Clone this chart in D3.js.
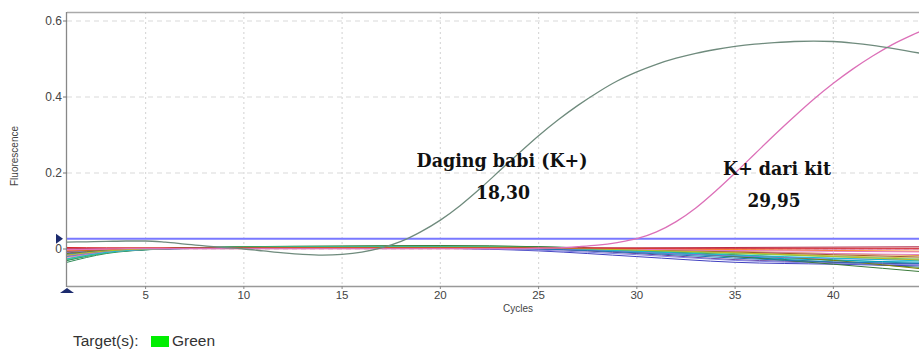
<!DOCTYPE html>
<html>
<head>
<meta charset="utf-8">
<script src="https://cdn.jsdelivr.net/npm/d3@7/dist/d3.min.js"></script>
<style>
  html, body { margin: 0; padding: 0; background: #fff; }
  svg { display: block; }
</style>
</head>
<body>
<svg id="chart" width="919" height="350"></svg>
<script>
// ---------------- DATA ----------------
const cycles = [1,2,3,4,5,6,7,8,9,10,11,12,13,14,15,16,17,18,19,20,21,22,23,24,25,26,27,28,29,30,31,32,33,34,35,36,37,38,39,40,41,42,43,44,45];

const xTicks = [5,10,15,20,25,30,35,40];
const yTicks = [0, 0.2, 0.4, 0.6];
const yTickLabels = ["0", "0.2", "0.4", "0.6"];

const thresholdValue = 0.027;

// Daging babi (K+) sample
const dagingBabi = [0.018,0.019,0.020,0.021,0.021,0.018,0.013,0.008,0.004,0.000,
  -0.005,-0.010,-0.014,-0.016,-0.014,-0.008,0.003,0.020,0.045,0.076,
  0.114,0.158,0.205,0.252,0.298,0.340,0.378,0.412,0.442,0.466,
  0.486,0.502,0.515,0.525,0.533,0.539,0.543,0.546,0.547,0.546,
  0.542,0.536,0.528,0.519,0.510];

// K+ dari kit sample
const kitPositive = [-0.002,-0.001,0.000,0.001,0.001,0.001,0.001,0.001,0.001,0.001,
  0.001,0.001,0.001,0.001,0.001,0.001,0.001,0.001,0.001,0.001,
  0.001,0.001,0.001,0.001,0.002,0.003,0.006,0.010,0.017,0.027,
  0.045,0.072,0.108,0.152,0.200,0.250,0.300,0.348,0.394,0.436,
  0.474,0.508,0.538,0.563,0.585];

// background (negative / baseline) samples, read at these cycles
const bgCycles = [1,3,5,8,10,15,20,25,30,35,40,45];
const bgColors = ["#2e8b57","#20b2aa","#d4c24a","#e0a040","#b03050","#cc3366","#6a3d9a","#4040c0",
  "#8080e0","#e080c0","#00a0c0","#808000","#3a7a3a","#a05a2c","#50c878","#9370db",
  "#1f77b4","#ff7f0e","#e377c2","#17becf","#bcbd22","#d62728"];
const bgValues = [
  [-0.035,-0.012,-0.002,0.004,0.006,0.007,0.008,0.006,-0.005,-0.020,-0.035,-0.050],
  [-0.030,-0.010,-0.001,0.004,0.005,0.006,0.007,0.004,-0.006,-0.018,-0.028,-0.040],
  [-0.025,-0.008,0.000,0.003,0.004,0.005,0.006,0.004,-0.002,-0.010,-0.018,-0.025],
  [-0.020,-0.006,0.001,0.002,0.003,0.004,0.005,0.004,0.000,-0.006,-0.012,-0.018],
  [0.002,0.002,0.002,0.002,0.002,0.002,0.003,0.003,0.003,0.004,0.005,0.006],
  [0.000,0.001,0.001,0.001,0.001,0.001,0.001,0.001,0.000,0.000,0.000,0.000],
  [-0.010,-0.004,0.000,0.002,0.003,0.004,0.004,0.000,-0.012,-0.028,-0.035,-0.040],
  [-0.005,-0.002,0.000,0.002,0.003,0.004,0.002,-0.005,-0.020,-0.035,-0.040,-0.045],
  [-0.008,-0.003,0.000,0.002,0.003,0.003,0.002,-0.003,-0.015,-0.030,-0.038,-0.042],
  [-0.015,-0.005,0.000,0.002,0.002,0.003,0.003,0.002,-0.003,-0.008,-0.012,-0.015],
  [-0.020,-0.008,-0.002,0.002,0.003,0.004,0.004,0.002,-0.008,-0.020,-0.030,-0.035],
  [-0.012,-0.004,0.000,0.003,0.004,0.005,0.005,0.003,-0.005,-0.015,-0.030,-0.055],
  [-0.030,-0.010,-0.002,0.004,0.006,0.008,0.009,0.006,-0.004,-0.020,-0.040,-0.062],
  [-0.006,-0.002,0.001,0.002,0.003,0.003,0.003,0.002,-0.002,-0.008,-0.015,-0.022],
  [-0.028,-0.010,-0.001,0.003,0.005,0.006,0.006,0.004,-0.004,-0.012,-0.020,-0.028],
  [-0.018,-0.006,0.000,0.002,0.003,0.004,0.004,0.001,-0.008,-0.018,-0.025,-0.030],
  [-0.014,-0.005,-0.001,0.002,0.003,0.003,0.003,0.000,-0.010,-0.024,-0.034,-0.038],
  [-0.004,-0.001,0.001,0.002,0.002,0.002,0.002,0.002,0.000,-0.002,-0.004,-0.006],
  [-0.022,-0.008,-0.001,0.002,0.003,0.003,0.003,0.002,-0.001,-0.004,-0.006,-0.008],
  [-0.026,-0.009,-0.001,0.003,0.004,0.005,0.005,0.003,-0.006,-0.016,-0.024,-0.032],
  [-0.016,-0.005,0.000,0.002,0.003,0.004,0.004,0.003,-0.003,-0.010,-0.020,-0.030],
  [0.004,0.003,0.003,0.003,0.003,0.003,0.003,0.003,0.002,0.002,0.002,0.002]
];

const annotations = [
  { text: "Daging babi (K+)", cx: 502, cy: 167, len: 171 },
  { text: "18,30",            cx: 503, cy: 199, len: 54 },
  { text: "K+ dari kit",      cx: 777, cy: 175, len: 108 },
  { text: "29,95",            cx: 774, cy: 207, len: 53 }
];

// ---------------- LAYOUT ----------------
const svg = d3.select("#chart");
const pLeft = 67, pTop = 12, pBottom = 286, pRight = 919;

const x = d3.scaleLinear().domain([1, 45]).range([pLeft, pLeft + 44 * 19.65]);
const y = d3.scaleLinear().domain([0, 0.6]).range([249, 21]);

svg.append("defs").append("clipPath").attr("id", "plotclip")
  .append("rect").attr("x", pLeft).attr("y", pTop).attr("width", pRight - pLeft).attr("height", pBottom - pTop);

// grid
const grid = svg.append("g");
grid.selectAll("line.v").data(xTicks).join("line")
  .attr("x1", d => x(d)).attr("x2", d => x(d))
  .attr("y1", pTop).attr("y2", pBottom)
  .attr("stroke", "#d9d9d9").attr("stroke-width", 1.2).attr("stroke-dasharray", "2,3");
grid.selectAll("line.h").data(yTicks).join("line")
  .attr("x1", pLeft).attr("x2", pRight)
  .attr("y1", d => y(d)).attr("y2", d => y(d))
  .attr("stroke", "#d9d9d9").attr("stroke-width", 1).attr("stroke-dasharray", "5,4");

// frame
svg.append("line").attr("x1", pLeft).attr("x2", pRight).attr("y1", pTop + 0.5).attr("y2", pTop + 0.5)
  .attr("stroke", "#aaaaaa").attr("stroke-width", 1.3);
svg.append("line").attr("x1", pLeft).attr("x2", pRight).attr("y1", pBottom + 0.5).attr("y2", pBottom + 0.5)
  .attr("stroke", "#999999").attr("stroke-width", 1.3);
svg.append("line").attr("x1", pLeft - 0.5).attr("x2", pLeft - 0.5).attr("y1", pTop).attr("y2", pBottom + 1)
  .attr("stroke", "#888888").attr("stroke-width", 1.3);

// y ticks
const yAx = svg.append("g");
yAx.selectAll("line").data(yTicks).join("line")
  .attr("x1", pLeft - 4).attr("x2", pLeft).attr("y1", d => y(d)).attr("y2", d => y(d))
  .attr("stroke", "#777");
yAx.selectAll("text").data(yTicks).join("text")
  .attr("x", pLeft - 5).attr("y", d => y(d)).attr("dy", "0.36em")
  .attr("text-anchor", "end")
  .attr("font-family", "Liberation Sans, Arial, sans-serif").attr("font-size", 12)
  .attr("fill", "#444")
  .text((d, i) => yTickLabels[i]);

// x ticks
const xAx = svg.append("g");
xAx.selectAll("line").data(xTicks).join("line")
  .attr("x1", d => x(d)).attr("x2", d => x(d)).attr("y1", pBottom).attr("y2", pBottom + 3)
  .attr("stroke", "#888");
xAx.selectAll("text").data(xTicks).join("text")
  .attr("x", d => x(d)).attr("y", 299)
  .attr("text-anchor", "middle")
  .attr("font-family", "Liberation Sans, Arial, sans-serif").attr("font-size", 11.5)
  .attr("fill", "#444")
  .text(d => d);

// axis titles
svg.append("text").attr("x", 518).attr("y", 312).attr("text-anchor", "middle")
  .attr("font-family", "Liberation Sans, Arial, sans-serif").attr("font-size", 10)
  .attr("fill", "#444").text("Cycles");
svg.append("text").attr("transform", "translate(18,156) rotate(-90)").attr("text-anchor", "middle")
  .attr("font-family", "Liberation Sans, Arial, sans-serif").attr("font-size", 10)
  .attr("fill", "#444").text("Fluorescence");

// curves
const plot = svg.append("g").attr("clip-path", "url(#plotclip)");
const bgLine = d3.line().x((d, i) => x(bgCycles[i])).y(d => y(d)).curve(d3.curveMonotoneX);
plot.selectAll("path.bg").data(bgValues).join("path")
  .attr("d", d => bgLine(d))
  .attr("fill", "none")
  .attr("stroke", (d, i) => bgColors[i])
  .attr("stroke-width", 1);

const mainLine = d3.line().x((d, i) => x(cycles[i])).y(d => y(d)).curve(d3.curveMonotoneX);

// threshold
plot.append("line").attr("x1", pLeft).attr("x2", pRight)
  .attr("y1", y(thresholdValue)).attr("y2", y(thresholdValue))
  .attr("stroke", "#7878ff").attr("stroke-width", 2);

plot.append("path").attr("d", mainLine(kitPositive))
  .attr("fill", "none").attr("stroke", "#dc70b8").attr("stroke-width", 1.3);
plot.append("path").attr("d", mainLine(dagingBabi))
  .attr("fill", "none").attr("stroke", "#6f8b7d").attr("stroke-width", 1.3);

// markers
const ty = y(thresholdValue);
svg.append("path").attr("d", `M56,${ty - 5} L63,${ty} L56,${ty + 5} Z`).attr("fill", "#1c2b6e");
svg.append("path").attr("d", `M${pLeft - 7},${pBottom + 7} L${pLeft},${pBottom + 2} L${pLeft + 7},${pBottom + 7} Z`).attr("fill", "#1c2b6e");

// annotations
svg.selectAll("text.ann").data(annotations).join("text")
  .attr("x", d => d.cx).attr("y", d => d.cy)
  .attr("text-anchor", "middle")
  .attr("font-family", "DejaVu Serif, serif").attr("font-weight", "bold")
  .attr("font-size", 19)
  .attr("textLength", d => d.len).attr("lengthAdjust", "spacingAndGlyphs")
  .attr("fill", "#111")
  .text(d => d.text);

// legend
svg.append("text").attr("x", 73).attr("y", 346)
  .attr("font-family", "Liberation Sans, Arial, sans-serif").attr("font-size", 15.5)
  .attr("fill", "#333").text("Target(s):");
svg.append("rect").attr("x", 151).attr("y", 336).attr("width", 18).attr("height", 11).attr("fill", "#00ee00");
svg.append("text").attr("x", 172).attr("y", 346)
  .attr("font-family", "Liberation Sans, Arial, sans-serif").attr("font-size", 15.5)
  .attr("fill", "#333").text("Green");
</script>
</body>
</html>
